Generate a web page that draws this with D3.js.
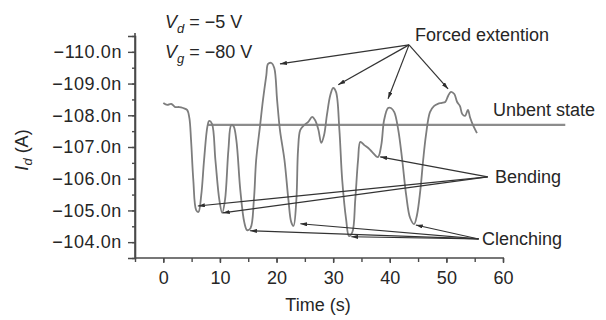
<!DOCTYPE html>
<html>
<head>
<meta charset="utf-8">
<script src="https://cdn.jsdelivr.net/npm/d3@7"></script>
<style>
  html, body { margin: 0; padding: 0; background: #fff; }
  svg { display: block; }
  text { font-family: "Liberation Sans", Arial, Helvetica, sans-serif; fill: #262626; }
</style>
</head>
<body>
<svg id="chart" width="606" height="320"></svg>
<script>
// ---- Data ----
const time = [0.0,0.7,1.4,2.1,2.8,3.5,4.2,4.6,4.9,5.3,5.8,6.2,6.7,7.2,7.8,8.1,8.6,9.2,9.9,10.4,10.9,11.5,12.0,12.4,12.9,13.6,14.3,14.8,15.4,16.0,16.4,17.1,17.6,18.2,18.5,19.1,19.6,20.1,20.6,21.4,22.1,22.6,23.0,23.5,23.8,24.2,24.9,25.6,26.3,26.8,27.4,27.9,28.4,28.9,29.5,30.0,30.5,31.1,31.6,32.3,32.8,33.4,33.9,34.4,34.8,35.5,36.2,36.9,37.9,38.5,39.0,39.7,40.2,40.8,41.5,42.2,42.9,43.6,44.3,44.8,45.4,45.9,46.4,47.1,47.8,48.5,49.2,49.8,50.3,50.8,51.4,51.9,52.4,52.8,53.3,53.8,54.2,54.7,55.4];
const current = [-108.39,-108.33,-108.36,-108.26,-108.26,-108.23,-108.17,-107.92,-107.22,-105.96,-105.01,-104.95,-105.48,-106.59,-107.66,-107.82,-107.73,-106.59,-105.33,-104.92,-105.33,-106.91,-107.69,-107.66,-107.22,-105.64,-104.63,-104.38,-104.44,-105.33,-106.59,-107.69,-108.48,-109.27,-109.62,-109.65,-109.49,-108.48,-107.54,-106.59,-105.33,-104.63,-104.51,-105.33,-106.91,-107.54,-107.69,-107.79,-107.95,-107.85,-107.54,-107.13,-107.38,-108.01,-108.64,-108.86,-108.74,-107.54,-105.96,-104.70,-104.19,-104.32,-105.33,-106.59,-107.16,-107.06,-106.97,-106.84,-106.68,-107.06,-107.85,-108.23,-108.23,-108.10,-107.54,-106.59,-105.48,-104.76,-104.57,-104.85,-105.64,-106.59,-107.38,-108.10,-108.29,-108.36,-108.39,-108.42,-108.61,-108.74,-108.67,-108.42,-108.29,-108.04,-107.98,-108.17,-107.92,-107.69,-107.44];

const yTicks = [-110, -109, -108, -107, -106, -105, -104];
const xTicks = [0, 10, 20, 30, 40, 50, 60];

// Unbent state reference level and its time span
const unbentLevel = -107.7;
const unbentSpan = [7.9, 71.0];

// Annotation anchors (label origin) and targets, in data units [time, current]
const forcedFrom = [43.4, -110.22];
const forcedTo = [[20.6, -109.62], [30.9, -108.96], [39.7, -108.52], [50.3, -108.83]];
const bendingFrom = [57.3, -106.06];
const bendingTo = [[6.1, -105.14], [10.5, -104.92], [38.3, -106.69]];
const clenchFrom = [55.7, -104.10];
const clenchTo = [[15.3, -104.36], [24.2, -104.58], [33.2, -104.17], [44.6, -104.54]];

// ---- Drawing ----
const svg = d3.select("#chart");
const x = d3.scaleLinear().domain([-5, 60]).range([135, 503]);
const y = d3.scaleLinear().domain([-103.5, -110.5]).range([258, 36]);

const axisColor = "#4a4a4a";

// y axis
const gy = svg.append("g").attr("transform", "translate(135,0)");
gy.call(d3.axisLeft(y).tickValues(d3.range(-110.5, -103.4, 0.5)).tickSize(3).tickFormat("").tickSizeOuter(0));
gy.call(g => g.append("g").call(d3.axisLeft(y).tickValues(yTicks).tickSize(7).tickFormat(d => d3.format(".1f")(d) + "n")));
gy.selectAll("path.domain").attr("stroke", axisColor).attr("stroke-width", 1.6);
gy.selectAll("line").attr("stroke", axisColor).attr("stroke-width", 1.4);
gy.selectAll("text").attr("font-size", 18).attr("fill", "#262626").attr("x", -13)
  .style("font-family", '"Liberation Sans", Arial, sans-serif').attr("letter-spacing", 0.6);
gy.select("path.domain").remove();
svg.append("line").attr("x1", 135).attr("x2", 135).attr("y1", 33).attr("y2", 258)
  .attr("stroke", axisColor).attr("stroke-width", 1.6);

// x axis
const gx = svg.append("g").attr("transform", "translate(0,258)");
gx.call(d3.axisBottom(x).tickValues(d3.range(-5, 61, 5)).tickSize(4).tickFormat("").tickSizeOuter(0));
gx.call(g => g.append("g").call(d3.axisBottom(x).tickValues(xTicks).tickSize(5).tickFormat(d3.format("d")).tickSizeOuter(0)));
gx.selectAll("path.domain").remove();
gx.selectAll("line").attr("stroke", axisColor).attr("stroke-width", 1.4);
gx.selectAll("text").attr("font-size", 18).attr("fill", "#262626").attr("y", 13)
  .style("font-family", '"Liberation Sans", Arial, sans-serif');
svg.append("line").attr("x1", 135).attr("x2", 504).attr("y1", 258).attr("y2", 258)
  .attr("stroke", axisColor).attr("stroke-width", 1.6);

// axis titles
svg.append("text").attr("x", 318).attr("y", 311).attr("text-anchor", "middle")
  .attr("font-size", 18).text("Time (s)");
const yl = svg.append("text").attr("transform", "translate(28,150) rotate(-90)")
  .attr("text-anchor", "middle").attr("font-size", 18);
yl.append("tspan").attr("font-style", "italic").text("I");
yl.append("tspan").attr("font-style", "italic").attr("font-size", 13).attr("dy", 4).text("d");
yl.append("tspan").attr("dy", -4).text(" (A)");

// Vd / Vg labels
function vLabel(yPos, sub, rest) {
  const t = svg.append("text").attr("x", 165).attr("y", yPos).attr("font-size", 18);
  t.append("tspan").attr("font-style", "italic").text("V");
  t.append("tspan").attr("font-style", "italic").attr("font-size", 13).attr("dy", 5).text(sub);
  t.append("tspan").attr("dy", -5).text(rest);
}
vLabel(28, "d", " = \u22125 V");
vLabel(58, "g", " = \u221280 V");

// unbent state line
svg.append("line")
  .attr("x1", x(unbentSpan[0])).attr("x2", x(unbentSpan[1]))
  .attr("y1", y(unbentLevel)).attr("y2", y(unbentLevel))
  .attr("stroke", "#8c8c8c").attr("stroke-width", 2.2);

// data curve
const pts = time.map((t, i) => [t, current[i]]);
svg.append("path").datum(pts)
  .attr("fill", "none").attr("stroke", "#7d7d7d").attr("stroke-width", 1.8)
  .attr("stroke-linejoin", "round")
  .attr("d", d3.line().x(d => x(d[0])).y(d => y(d[1])).curve(d3.curveCatmullRom.alpha(0.5)));

// arrows
svg.append("defs").append("marker").attr("id", "ah")
  .attr("viewBox", "0 0 10 6").attr("refX", 10).attr("refY", 3)
  .attr("markerWidth", 7).attr("markerHeight", 4.2).attr("markerUnits", "userSpaceOnUse")
  .attr("orient", "auto")
  .append("path").attr("d", "M0,0 L10,3 L0,6 Z").attr("fill", "#2e2e2e");

function arrows(from, targets) {
  svg.append("g").selectAll("line").data(targets).join("line")
    .attr("x1", x(from[0])).attr("y1", y(from[1]))
    .attr("x2", d => x(d[0])).attr("y2", d => y(d[1]))
    .attr("stroke", "#333").attr("stroke-width", 1.2)
    .attr("marker-end", "url(#ah)");
}
arrows(forcedFrom, forcedTo);
arrows(bendingFrom, bendingTo);
arrows(clenchFrom, clenchTo);

// annotation labels
svg.append("text").attr("x", 415).attr("y", 41).attr("font-size", 18).text("Forced extention");
svg.append("text").attr("x", 493).attr("y", 116).attr("font-size", 18).text("Unbent state");
svg.append("text").attr("x", 495).attr("y", 183).attr("font-size", 18).text("Bending");
svg.append("text").attr("x", 482).attr("y", 245).attr("font-size", 18).text("Clenching");
</script>
</body>
</html>
